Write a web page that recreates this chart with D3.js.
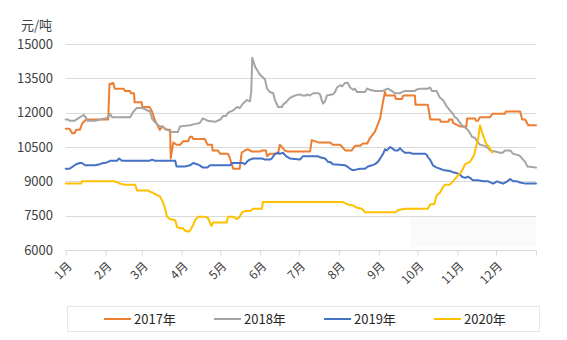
<!DOCTYPE html>
<html>
<head>
<meta charset="utf-8">
<script src="https://cdn.jsdelivr.net/npm/d3@7"></script>
<style>
  html, body { margin: 0; padding: 0; background: #fff; }
  svg { display: block; font-family: "Microsoft YaHei", "Noto Sans CJK SC", sans-serif; }
</style>
</head>
<body>
<svg id="chart" width="567" height="340"></svg>
<script>
// Daily price series, [day of year, 元/吨]
const series2017 = [
  [0,11300],[3,11300],[5,11100],[7,11100],[8,11250],[11,11250],[13,11550],[16,11700],[33,11700],
  [34,13250],[37,13300],[38,13050],[45,13050],[46,12950],[50,12950],[50.5,12850],[53,12850],
  [53.5,12450],[59,12450],[59.5,12250],[65,12250],[67,12050],[69,11700],[73,11250],[75,11400],
  [78,11250],[81,11250],[81.5,10000],[83.5,10700],[86,10600],[89,10600],[91,10750],[95,10750],
  [96.5,10950],[98,10950],[99,10850],[108,10850],[110,10600],[113.5,10600],[114,10350],[118,10350],
  [120,10200],[126,10200],[127.5,10000],[130,9550],[135,9550],[136.6,10250],[139,10350],[141.5,10400],
  [144.6,10300],[151,10300],[152.3,10350],[155.4,10350],[156.2,10100],[158.5,10200],[164.7,10200],
  [166.2,10600],[170,10350],[172.5,10300],[189.6,10300],[191,10800],[196,10700],[205,10700],
  [207.4,10600],[213,10600],[217,10350],[222,10350],[224.5,10550],[228.4,10550],[230.7,10650],
  [234,10650],[236,10880],[240,11170],[241.6,11400],[244,11750],[246.5,12550],[247.8,12900],
  [248.6,12750],[255.5,12750],[256.3,12600],[261,12600],[262,12750],[271,12750],[271.5,12350],
  [281,12350],[283,11700],[290.5,11700],[291,11600],[297,11600],[297.5,11700],[300,11700],
  [300.6,11550],[306,11400],[311,11400],[311.5,11750],[317.6,11750],[318.4,11650],[320,11650],
  [321.5,11800],[329.3,11800],[331,11950],[341,11950],[341.5,12050],[352.7,12050],[354.3,11700],
  [356.6,11700],[359,11450],[365,11450]
];
const series2018 = [
  [0,11700],[2,11700],[3,11650],[7,11650],[11,11800],[14,11900],[16,11750],[17,11650],[23,11650],
  [27,11700],[30.5,11750],[33,11800],[34.4,11950],[36,11800],[50,11800],[52,12000],[55,12200],
  [60,12200],[61.5,12150],[65.4,12050],[67,11750],[69,11600],[73,11400],[75.3,11400],[77,11300],
  [79,11250],[82.5,11150],[87,11150],[88.7,11400],[96.5,11450],[100,11500],[104,11550],[106.5,11750],
  [110,11650],[116,11600],[120,11700],[122,11850],[124.4,11850],[126,12000],[130,12100],[133,12250],
  [135,12200],[137.6,12400],[140.7,12550],[143,12500],[144,12900],[144.8,14400],[147,14000],
  [149.3,13800],[150.8,13650],[153,13550],[154.7,13450],[156.2,13050],[158.5,12900],[161,12850],
  [162.4,12550],[164,12350],[164.7,12250],[168,12250],[168.6,12350],[171,12450],[172.5,12550],
  [174,12650],[178,12750],[182,12800],[183.4,12750],[186.5,12750],[187.3,12800],[189.6,12750],
  [192,12850],[196,12850],[197.4,12800],[199,12500],[199.7,12400],[201.3,12500],[202.8,12750],
  [207.4,12800],[209,12900],[210.5,13100],[213,13200],[214.5,13150],[216.8,13300],[219,13300],
  [220.7,13100],[223,13000],[224.5,13050],[226,12900],[232.3,12900],[233.8,13050],[236,13000],
  [240,12950],[246.3,12950],[247.8,13000],[250,13050],[253,12950],[255.5,12850],[259.4,12850],
  [261,12900],[263.3,12950],[271,12950],[272,13000],[275,13050],[281,13050],[282.8,13100],
  [284.3,12950],[288,12950],[289,12800],[290.5,12650],[292.8,12550],[294.4,12400],[296,12250],
  [298.2,12100],[300.6,11950],[302,11800],[303.7,11750],[306,11550],[308.3,11400],[310,11350],
  [312,11250],[313.8,11100],[315.3,10950],[317.6,10900],[319.2,10750],[321.5,10600],[325.4,10550],
  [327.8,10450],[329.3,10350],[333.2,10300],[337,10250],[339,10250],[341,10350],[345,10350],
  [347.3,10200],[351,10150],[352.7,10100],[355,9950],[356.6,9850],[358.2,9650],[365,9600]
];
const series2019 = [
  [0,9550],[3,9550],[5.7,9650],[8,9750],[11,9800],[12.6,9800],[15,9700],[22.7,9700],[26.6,9750],
  [29,9800],[30.5,9800],[33,9850],[34.4,9900],[40,9900],[41.4,10000],[43.7,9900],[48.3,9900],
  [65.4,9900],[67,9950],[69.2,9900],[85,9900],[86,9650],[92.5,9650],[96.5,9700],[99,9800],
  [102,9750],[104,9700],[106.5,9600],[110,9600],[112,9700],[127.5,9700],[129,9800],[137.6,9800],
  [139,9750],[141.5,9900],[143,9950],[145.4,10000],[152.3,10000],[154.7,9950],[158.5,9950],
  [160,10000],[162.4,10200],[164.7,10250],[166.2,10200],[168.6,10250],[171,10100],[174,10000],
  [181.8,9950],[184.2,10100],[195.8,10100],[197.4,10050],[201.3,10000],[203.6,9850],[205,9850],
  [207.4,9750],[216.8,9700],[218.4,9650],[220.7,9550],[222.2,9500],[224.5,9500],[228.4,9550],
  [232.3,9550],[234.6,9650],[237.7,9700],[240,9750],[242.4,9850],[244,10000],[246.3,10200],
  [247.8,10400],[249.3,10350],[251.7,10500],[253.2,10450],[255.5,10350],[258,10350],[259.4,10450],
  [261,10350],[263.3,10250],[267.2,10250],[269.6,10200],[279,10200],[280.4,10150],[281.2,10050],
  [282.8,9950],[285,9700],[288,9600],[290.5,9550],[292.8,9500],[298.2,9450],[300.6,9400],
  [303.7,9350],[306,9300],[307.5,9200],[310,9150],[312,9200],[313.8,9150],[316,9050],[320,9050],
  [324,9000],[328,9000],[331.7,8900],[334.8,9000],[337,8950],[339.5,8900],[342.6,9000],[345,9100],
  [347.3,9000],[350.4,9000],[352.7,8950],[356.6,8900],[365,8900]
];
const series2020 = [
  [0,8900],[12,8900],[12.6,9000],[38,9000],[40.6,8950],[42,8900],[46,8850],[54,8850],[55.3,8600],
  [64,8600],[65.4,8550],[67.7,8500],[71,8400],[73,8350],[74.5,8200],[75.3,8100],[77,7850],
  [78.6,7450],[81,7350],[85,7300],[86.4,7000],[88.7,6950],[91,6950],[92.5,6850],[95,6800],
  [96.5,6850],[99,7100],[100.3,7300],[102.7,7450],[108,7450],[110.4,7400],[113,7050],[114.3,7200],
  [125,7200],[126,7450],[130,7450],[131.4,7400],[133,7350],[135,7450],[137,7650],[139,7700],
  [143,7700],[145.4,7800],[152.3,7800],[153,8100],[214.5,8100],[216.8,8050],[220.7,7950],
  [223,7950],[226,7850],[230,7800],[232.3,7650],[256,7650],[258,7750],[264,7800],[281,7800],
  [283,8000],[286,8000],[288,8400],[290.5,8500],[292.8,8750],[294.4,8850],[298,8850],[300.6,9000],
  [302,9100],[303.7,9200],[305.2,9300],[306.8,9400],[308.3,9550],[310,9750],[313.8,9850],
  [315.3,10000],[317,10150],[318.4,10500],[320,10800],[320.8,11150],[321.5,11450],[323,11150],
  [324.7,10900],[326.2,10650],[327.8,10550],[329.3,10450],[331,10250]
];

const seriesNames = ["2017年", "2018年", "2019年", "2020年"];
const seriesColors = ["#ED7D31", "#A5A5A5", "#4472C4", "#FFC000"];
const allSeries = [series2017, series2018, series2019, series2020];

const yTicks = [6000, 7500, 9000, 10500, 12000, 13500, 15000];
const monthStarts = [0, 31, 59, 90, 120, 151, 181, 212, 243, 273, 304, 334, 365];
const monthLabels = ["1月","2月","3月","4月","5月","6月","7月","8月","9月","10月","11月","12月"];
const unitLabel = "元/吨";

const svg = d3.select("#chart");
const plot = { left: 65.7, right: 536, top: 44, bottom: 250 };

const x = d3.scaleLinear().domain([0, 365]).range([plot.left, plot.right]);
const y = d3.scaleLinear().domain([6000, 15000]).range([plot.bottom, plot.top]);

// faint panel in the lower right corner of the plot
svg.append("rect")
  .attr("x", 411).attr("y", 217).attr("width", 125).attr("height", 30)
  .attr("fill", "#fafafa");

// horizontal gridlines
svg.append("g")
  .selectAll("line")
  .data(yTicks)
  .join("line")
  .attr("x1", plot.left).attr("x2", plot.right)
  .attr("y1", d => Math.round(y(d)) + 0.5).attr("y2", d => Math.round(y(d)) + 0.5)
  .attr("stroke", "#d9d9d9").attr("stroke-width", 1);

// y axis labels
const yAxis = d3.axisLeft(y).tickValues(yTicks).tickSize(0).tickPadding(0).tickFormat(d3.format("d"));
svg.append("g")
  .attr("transform", `translate(53,0)`)
  .call(yAxis)
  .call(g => g.select(".domain").remove())
  .call(g => g.selectAll("text")
    .attr("font-size", "13px").attr("fill", "#404040")
    .attr("font-family", "\"Microsoft YaHei\", \"Noto Sans CJK SC\", sans-serif"));

svg.append("text")
  .attr("x", 21).attr("y", 30)
  .attr("font-size", "13px").attr("fill", "#404040")
  .text(unitLabel);

// x axis with month ticks
const xAxis = d3.axisBottom(x).tickValues(monthStarts).tickSize(5).tickFormat("");
svg.append("g")
  .attr("transform", `translate(0,${Math.round(plot.bottom) + 0.5})`)
  .call(xAxis)
  .call(g => g.select(".domain").attr("stroke", "#d9d9d9").attr("d", `M${plot.left},0H${plot.right}`))
  .call(g => g.selectAll(".tick line").attr("stroke", "#d9d9d9"));

svg.append("g")
  .selectAll("text")
  .data(monthLabels)
  .join("text")
  .attr("transform", (d, i) => `translate(${x(monthStarts[i]) + 4},${plot.bottom + 14}) rotate(-45)`)
  .attr("text-anchor", "end")
  .attr("dy", "0.35em")
  .attr("font-size", "12px").attr("fill", "#404040")
  .text(d => d);

// price lines
const line = d3.line().x(d => x(d[0])).y(d => y(d[1]));
svg.append("g")
  .selectAll("path")
  .data(allSeries)
  .join("path")
  .attr("d", line)
  .attr("fill", "none")
  .attr("stroke", (d, i) => seriesColors[i])
  .attr("stroke-width", 2)
  .attr("stroke-linejoin", "round")
  .attr("stroke-linecap", "round");

// legend
const legend = svg.append("g");
legend.append("rect")
  .attr("x", 67.5).attr("y", 306.5).attr("width", 472).attr("height", 25)
  .attr("fill", "#fff").attr("stroke", "#e6e6e6");
const legendX = [104, 214, 324, 434];
const items = legend.selectAll("g.item")
  .data(seriesNames)
  .join("g")
  .attr("class", "item")
  .attr("transform", (d, i) => `translate(${legendX[i]},319)`);
items.append("line")
  .attr("x1", 0).attr("x2", 27).attr("y1", 0).attr("y2", 0)
  .attr("stroke", (d, i) => seriesColors[i]).attr("stroke-width", 2);
items.append("text")
  .attr("x", 30).attr("dy", "0.35em")
  .attr("font-size", "13px").attr("fill", "#262626")
  .text(d => d);
</script>
</body>
</html>
